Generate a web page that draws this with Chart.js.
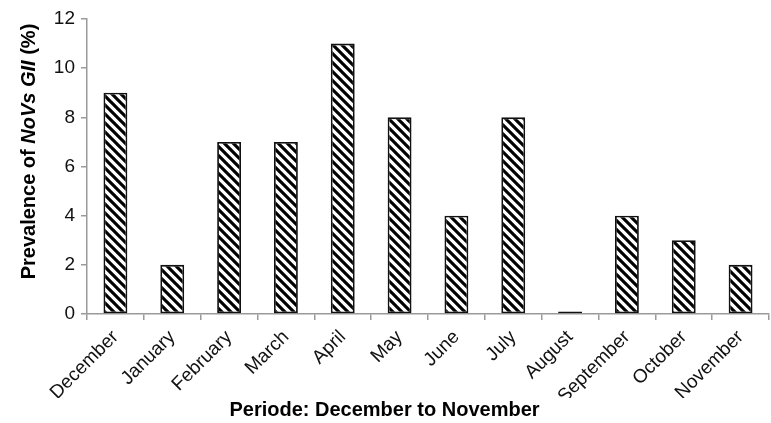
<!DOCTYPE html>
<html>
<head>
<meta charset="utf-8">
<script src="https://cdn.jsdelivr.net/npm/chart.js@4/dist/chart.umd.min.js"></script>
<style>
  html, body { margin: 0; padding: 0; background: #fff; }
  #wrap { width: 771px; height: 423px; position: relative; }
</style>
</head>
<body>
<div id="wrap"><canvas id="c"></canvas></div>
<script>
// Months of the study period and monthly prevalence of NoVs GII (%)
const months = ['December', 'January', 'February', 'March', 'April', 'May',
                'June', 'July', 'August', 'September', 'October', 'November'];
const prevalence = [9, 2, 7, 7, 11, 8, 4, 8, 0.1, 4, 3, 2];
const yTicks = [0, 2, 4, 6, 8, 10, 12];

// Diagonal "\\\\" hatch fill for the bars
function hatchPattern() {
  const s = 9;
  const tile = document.createElement('canvas');
  tile.width = s; tile.height = s;
  const g = tile.getContext('2d');
  g.fillStyle = '#fff';
  g.fillRect(0, 0, s, s);
  g.strokeStyle = '#000';
  g.lineWidth = 3.1;
  g.beginPath();
  g.moveTo(-s, -s); g.lineTo(2 * s, 2 * s);
  g.moveTo(-s, 0); g.lineTo(s, 2 * s);
  g.moveTo(0, -s); g.lineTo(2 * s, s);
  g.stroke();
  return g.createPattern(tile, 'repeat');
}

const FONT = '"Liberation Sans", Arial, sans-serif';

// Vertical axis title with the virus name set in italics
const yTitlePlugin = {
  id: 'yTitle',
  afterDraw(chart) {
    const ctx = chart.ctx;
    const parts = [
      { t: 'Prevalence of ', f: 'bold 20px ' + FONT },
      { t: 'NoVs GII', f: 'italic bold 20px ' + FONT },
      { t: ' (%)', f: 'bold 20px ' + FONT }
    ];
    ctx.save();
    let total = 0;
    parts.forEach(p => { ctx.font = p.f; p.w = ctx.measureText(p.t).width; total += p.w; });
    const area = chart.chartArea;
    ctx.translate(29, (area.top + area.bottom) / 2 - 15);
    ctx.rotate(-Math.PI / 2);
    ctx.fillStyle = '#000';
    ctx.textBaseline = 'middle';
    ctx.textAlign = 'left';
    let x = -total / 2;
    parts.forEach(p => { ctx.font = p.f; ctx.fillText(p.t, x, 0); x += p.w; });
    ctx.restore();
  }
};

const axisGrey = '#9a9a9a';

new Chart(document.getElementById('c'), {
  type: 'bar',
  data: {
    labels: months,
    datasets: [{
      data: prevalence,
      backgroundColor: hatchPattern(),
      borderColor: '#111',
      borderWidth: 1.8,
      borderSkipped: false,
      barPercentage: 0.42,
      categoryPercentage: 1.0
    }]
  },
  options: {
    responsive: true,
    maintainAspectRatio: false,
    animation: false,
    layout: { padding: { left: 0, right: 2, top: 19, bottom: 0 } },
    plugins: {
      legend: { display: false },
      tooltip: { enabled: false },
      title: {
        display: true,
        position: 'bottom',
        text: 'Periode: December to November',
        color: '#000',
        font: { family: FONT, size: 20, weight: 'bold' },
        padding: { top: 0, bottom: 1 }
      }
    },
    scales: {
      x: {
        grid: { display: true, drawOnChartArea: false, drawTicks: true, tickLength: 6,
                color: axisGrey, lineWidth: 1.5, offset: true },
        border: { display: true, color: axisGrey, width: 1.5 },
        ticks: {
          minRotation: 45, maxRotation: 45, autoSkip: false, padding: 6,
          color: '#111',
          font: { family: FONT, size: 19 }
        },
        afterFit(scale) { scale.height = 84; }
      },
      y: {
        min: 0, max: 12,
        afterBuildTicks(scale) { scale.ticks = yTicks.map(v => ({ value: v })); },
        grid: { display: true, drawOnChartArea: false, drawTicks: true, tickLength: 6,
                color: axisGrey, lineWidth: 1.5 },
        border: { display: true, color: axisGrey, width: 1.5 },
        ticks: {
          padding: 6,
          color: '#111',
          font: { family: FONT, size: 19 }
        },
        afterFit(scale) { scale.width = 87; }
      }
    }
  },
  plugins: [yTitlePlugin]
});
</script>
</body>
</html>
